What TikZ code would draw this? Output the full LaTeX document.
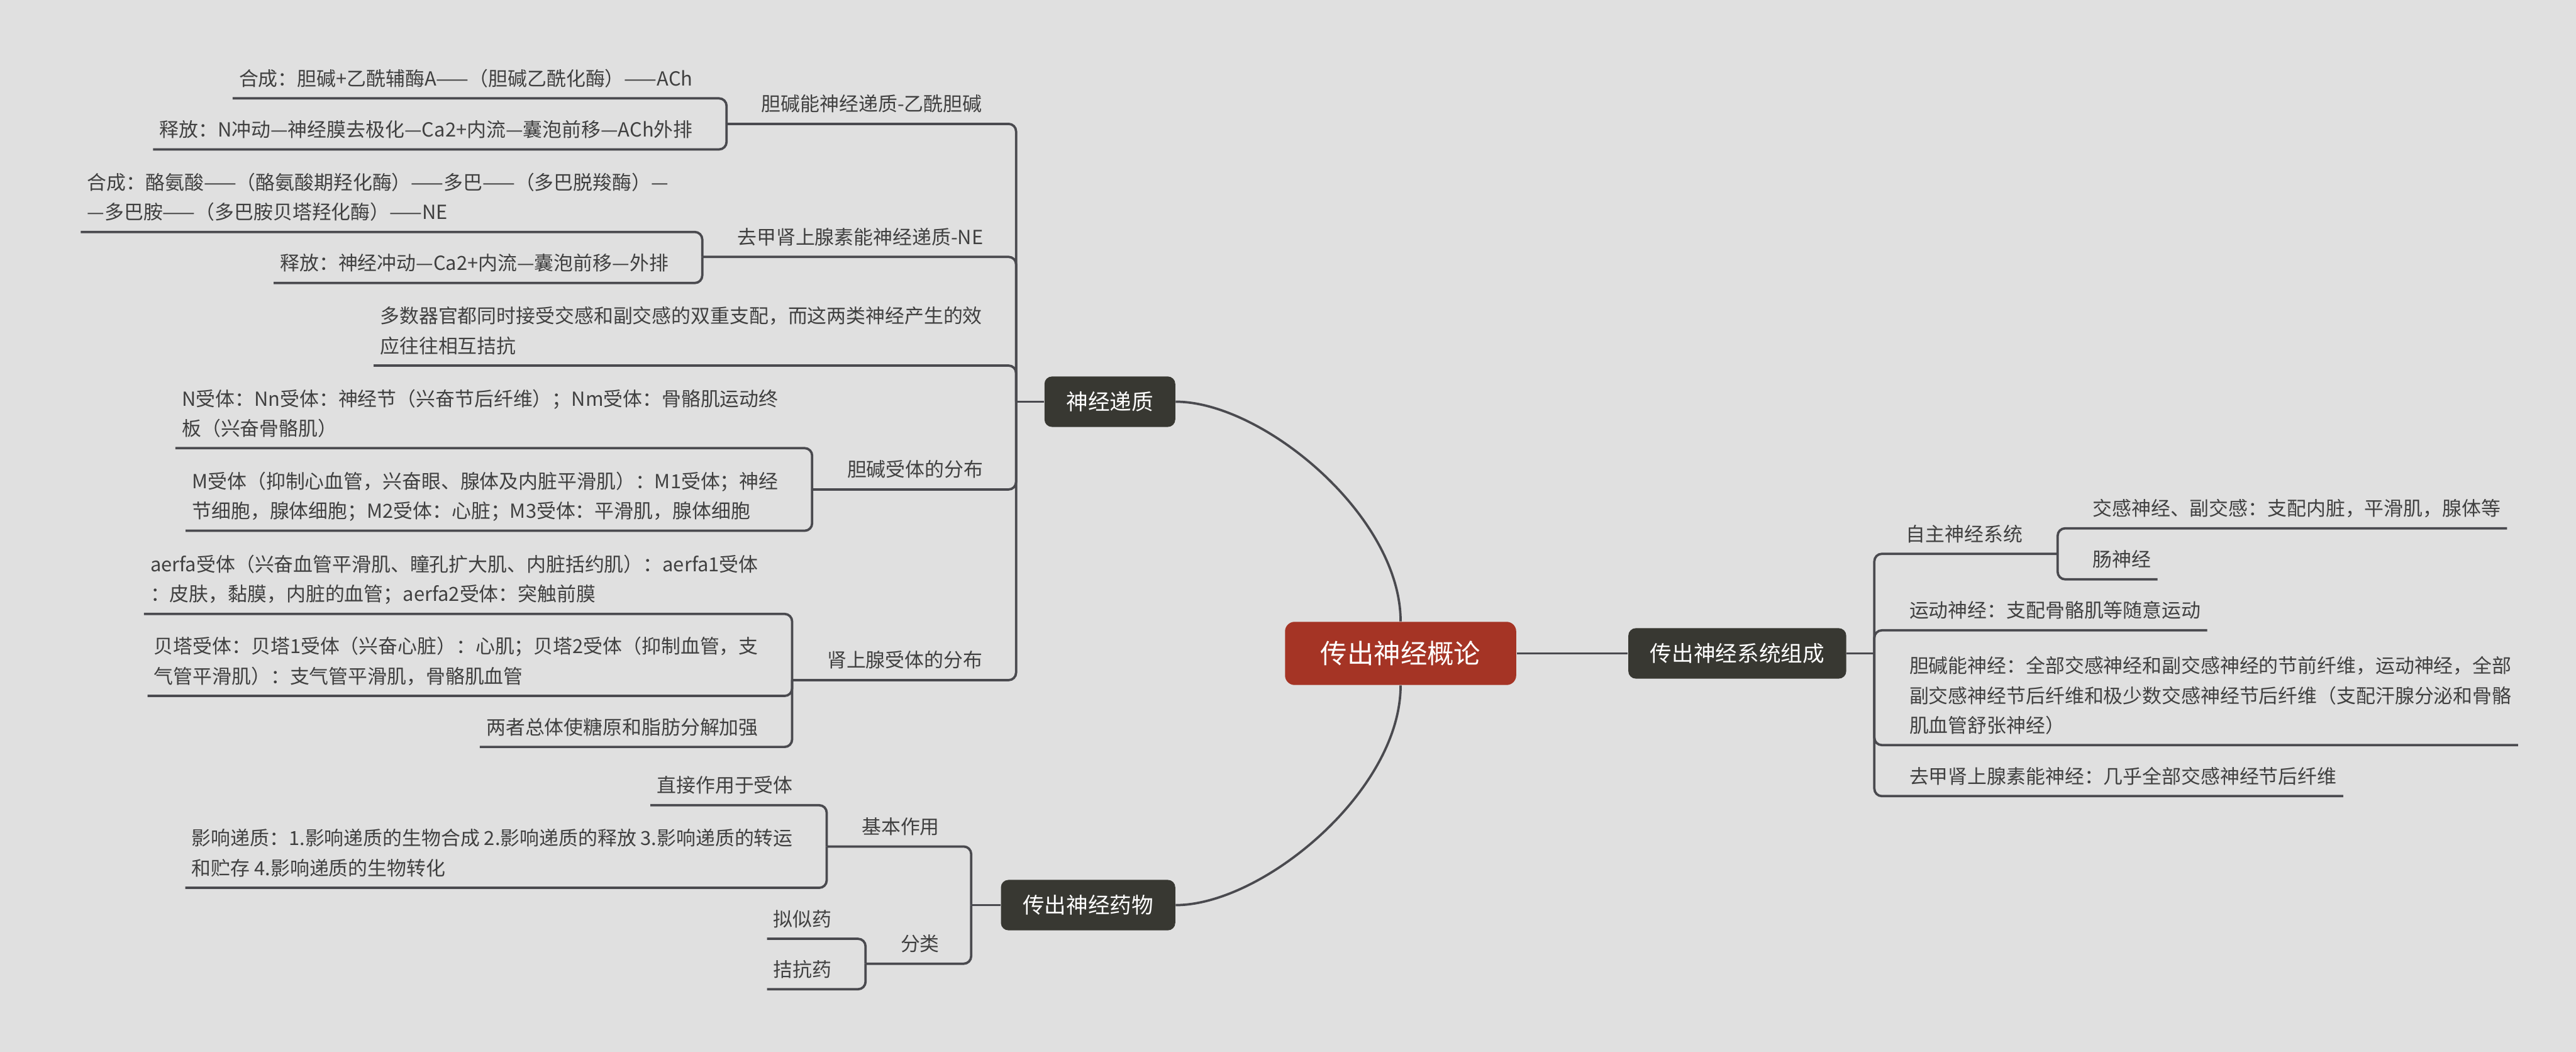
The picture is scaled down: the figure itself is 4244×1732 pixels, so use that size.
\documentclass[tikz,border=0pt]{standalone}
\usepackage{fontspec}
\newfontfamily\cjk{Noto Sans CJK SC}
\usepackage{tikz}
\definecolor{bgcolor}{HTML}{E0E0E0}
\definecolor{linegray}{HTML}{4A4A4F}
\definecolor{topicgray}{HTML}{383832}
\definecolor{rootred}{HTML}{A53425}
\definecolor{txtgray}{HTML}{404040}

\begin{document}
\begin{tikzpicture}[
  x=0.01cm, y=-0.01cm,
  leaf/.style={inner xsep=0.1cm, inner ysep=0pt, align=left, text=txtgray,
               font=\cjk\fontsize{9.1}{13.9}\selectfont,
               execute at end node={\rule[-0.2cm]{0pt}{0.2cm}}},
  mid/.style={leaf, inner xsep=0.57cm},
  topic/.style={fill=topicgray, rounded corners=3.5pt, text=white,
                inner xsep=0.36cm, minimum height=0.83cm,
                font=\cjk\fontsize{10.2}{12}\selectfont},
  root/.style={fill=rootred, rounded corners=4.5pt, text=white,
               inner xsep=0.585cm, minimum height=1.04cm,
               font=\cjk\fontsize{12.5}{15}\selectfont},
  link/.style={draw=linegray, line width=1.1pt, rounded corners=3.5pt}
]
\fill[bgcolor] (0,0) rectangle (4244,1732);
\useasboundingbox (0,0) rectangle (4244,1732);

% main topics
\node[root] (root) at (2307.5,1076) {传出神经概论};
\node[topic, anchor=east] (nt) at (1937,661.5) {神经递质};
\node[topic, anchor=east] (drug) at (1937,1490.5) {传出神经药物};
\node[topic, anchor=west] (sys) at (2682,1076) {传出神经系统组成};
\coordinate (ntj) at (1674,661.5);
\coordinate (drugj) at (1600,1490.5);
\coordinate (sysj) at (3088,1076);

% neurotransmitters
\node[mid, anchor=south west] (chol) at (1197,204) {胆碱能神经递质-乙酰胆碱};
\node[leaf, anchor=south east] (achsyn) at (1152,162) {合成：胆碱+乙酰辅酶A——（胆碱乙酰化酶）——ACh};
\node[leaf, anchor=south east] (achrel) at (1152,246) {释放：N冲动—神经膜去极化—Ca2+内流—囊泡前移—ACh外排};
\node[mid, anchor=south west] (ne) at (1157,423) {去甲肾上腺素能神经递质-NE};
\node[leaf, anchor=south east] (nesyn) at (1112,382) {合成：酪氨酸——（酪氨酸期羟化酶）——多巴——（多巴脱羧酶）—\\—多巴胺——（多巴胺贝塔羟化酶）——NE};
\node[leaf, anchor=south east] (nerel) at (1112,466) {释放：神经冲动—Ca2+内流—囊泡前移—外排};
\node[leaf, anchor=south east] (dual) at (1629,602) {多数器官都同时接受交感和副交感的双重支配，而这两类神经产生的效\\应往往相互拮抗};
\node[mid, anchor=south west] (chr) at (1338,806) {胆碱受体的分布};
\node[leaf, anchor=south east] (nrec) at (1293,738) {N受体：Nn受体：神经节（兴奋节后纤维）；Nm受体：骨骼肌运动终\\板（兴奋骨骼肌）};
\node[leaf, anchor=south east] (mrec) at (1293,874) {M受体（抑制心血管，兴奋眼、腺体及内脏平滑肌）：M1受体；神经\\节细胞，腺体细胞；M2受体：心脏；M3受体：平滑肌，腺体细胞};
\node[mid, anchor=south west] (adr) at (1305,1120) {肾上腺受体的分布};
\node[leaf, anchor=south east] (arec) at (1260,1011) {aerfa受体（兴奋血管平滑肌、瞳孔扩大肌、内脏括约肌）：aerfa1受体\\：皮肤，黏膜，内脏的血管；aerfa2受体：突触前膜};
\node[leaf, anchor=south east] (brec) at (1260,1146) {贝塔受体：贝塔1受体（兴奋心脏）：心肌；贝塔2受体（抑制血管，支\\气管平滑肌）：支气管平滑肌，骨骼肌血管};
\node[leaf, anchor=south east] (both) at (1260,1230) {两者总体使糖原和脂肪分解加强};

% drugs
\node[mid, anchor=south west] (basic) at (1362,1394) {基本作用};
\node[leaf, anchor=south east] (direct) at (1317,1326) {直接作用于受体};
\node[leaf, anchor=south east] (affect) at (1317,1462) {影响递质：1.影响递质的生物合成 2.影响递质的释放 3.影响递质的转运\\和贮存 4.影响递质的生物转化};
\node[mid, anchor=south west] (cls) at (1426,1587) {分类};
\node[leaf, anchor=south east] (agon) at (1381,1546) {拟似药};
\node[leaf, anchor=south east] (antag) at (1381,1629) {拮抗药};

% system
\node[mid, anchor=south east] (auto) at (3390,912) {自主神经系统};
\node[leaf, anchor=south west] (symp) at (3437,870) {交感神经、副交感：支配内脏，平滑肌，腺体等};
\node[leaf, anchor=south west] (enteric) at (3437,954) {肠神经};
\node[leaf, anchor=south west] (motor) at (3135,1038) {运动神经：支配骨骼肌等随意运动};
\node[leaf, anchor=south west] (cholnerve) at (3135,1227) {胆碱能神经：全部交感神经和副交感神经的节前纤维，运动神经，全部\\副交感神经节后纤维和极少数交感神经节后纤维（支配汗腺分泌和骨骼\\肌血管舒张神经）};
\node[leaf, anchor=south west] (adrnerve) at (3135,1311) {去甲肾上腺素能神经：几乎全部交感神经节后纤维};

% connectors
\draw[link] (root.north) .. controls +(0,-174) and +(143,0) .. (nt.east);
\draw[link] (root.south) .. controls +(0,174) and +(143,0) .. (drug.east);
\draw[link] (root.east) -- (sys.west);

\draw[link] (ntj) -- (nt.west);
\draw[link] (chol.south west) -| (ntj);
\draw[link] (ne.south west) -| (ntj);
\draw[link] (dual.south west) -| (ntj);
\draw[link] (chr.south west) -| (ntj);
\draw[link] (adr.south west) -| (ntj);
\draw[link] (achsyn.south west) -| (chol.south west);
\draw[link] (achrel.south west) -| (chol.south west);
\draw[link] (nesyn.south west) -| (ne.south west);
\draw[link] (nerel.south west) -| (ne.south west);
\draw[link] (nrec.south west) -| (chr.south west);
\draw[link] (mrec.south west) -| (chr.south west);
\draw[link] (arec.south west) -| (adr.south west);
\draw[link] (brec.south west) -| (adr.south west);
\draw[link] (both.south west) -| (adr.south west);

\draw[link] (drugj) -- (drug.west);
\draw[link] (basic.south west) -| (drugj);
\draw[link] (cls.south west) -| (drugj);
\draw[link] (direct.south west) -| (basic.south west);
\draw[link] (affect.south west) -| (basic.south west);
\draw[link] (agon.south west) -| (cls.south west);
\draw[link] (antag.south west) -| (cls.south west);

\draw[link] (sys.east) -- (sysj);
\draw[link] (sysj) |- (auto.south east);
\draw[link] (sysj) |- (motor.south east);
\draw[link] (sysj) |- (cholnerve.south east);
\draw[link] (sysj) |- (adrnerve.south east);
\draw[link] (auto.south east) |- (symp.south east);
\draw[link] (auto.south east) |- (enteric.south east);
\end{tikzpicture}
\end{document}
